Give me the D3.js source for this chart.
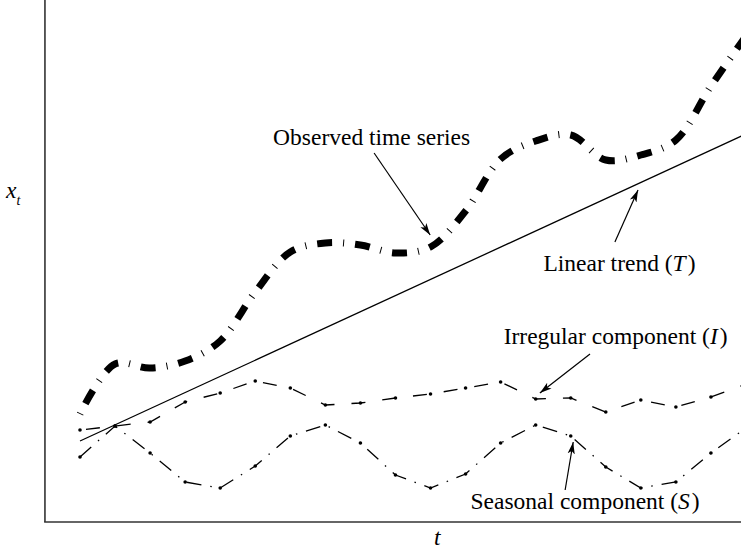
<!DOCTYPE html>
<html>
<head>
<meta charset="utf-8">
<script src="https://cdn.jsdelivr.net/npm/d3@7/dist/d3.min.js"></script>
<style>
  html, body { margin: 0; padding: 0; background: #fff; }
  svg { display: block; }
  text { font-family: "Liberation Serif", "DejaVu Serif", serif; fill: #000; }
</style>
</head>
<body>
<svg id="chart" width="741" height="553"></svg>
<script>
// Time index (equally spaced periods)
const periods = d3.range(0, 20);

// Observed time series x_t
const observed = [21.6, 31.6, 30.8, 32.2, 36.2, 46.0, 54.0, 55.8, 55.4, 53.8,
                  55.0, 62.2, 72.6, 76.2, 77.4, 72.4, 73.4, 76.4, 87.2, 97.2];

// Seasonal component (S)
const seasonal = [13.0, 19.2, 13.8, 8.0, 6.8, 11.2, 17.2, 19.4, 15.8, 9.4,
                  6.8, 9.6, 15.8, 19.4, 17.2, 11.0, 6.8, 8.0, 13.8, 18.8];

// Irregular component (I)
const irregular = [18.4, 19.2, 20.0, 24.0, 25.8, 28.2, 26.8, 23.4, 23.8, 24.8,
                   25.6, 26.8, 28.0, 24.6, 24.8, 22.0, 24.4, 23.0, 25.0, 27.6];

// Linear trend (T): end points of the fitted line
const trendT = [0, 19];
const trendV = [16.2, 77.6];

// Annotation labels and their arrows, in data units
const labelText = ["Observed time series", "Linear trend ", "Irregular component ", "Seasonal component "];
const labelSymbol = [null, "T", "I", "S"];
const labelT = [8.32, 15.39, 15.28, 14.41];
const labelV = [75.4, 50.2, 35.6, 2.6];
const arrowFrom = [[8.39, 73.8], [15.26, 56.0], [14.55, 33.6], [13.84, 6.4]];
const arrowTo   = [[9.99, 57.4], [15.92, 66.4], [13.12, 25.8], [14.07, 16.0]];

const svg = d3.select("#chart");
const W = 741, H = 553;

const x = d3.scaleLinear().domain([0, 19]).range([80, 746]);
const y = d3.scaleLinear().domain([0, 100]).range([522, 22]);

// Arrowhead
svg.append("defs").append("marker")
  .attr("id", "head")
  .attr("markerUnits", "userSpaceOnUse")
  .attr("viewBox", "-12 -5 13 10")
  .attr("refX", 0).attr("refY", 0)
  .attr("markerWidth", 13).attr("markerHeight", 10)
  .attr("orient", "auto")
  .append("path")
  .attr("d", "M0,0 L-12,-3.6 L-9,0 L-12,3.6 Z")
  .attr("fill", "#000");

// Axes: plain lines, no ticks
const x0 = x(-1);
svg.append("line")
  .attr("x1", x0).attr("x2", x0)
  .attr("y1", 0).attr("y2", y(0))
  .attr("stroke", "#333").attr("stroke-width", 1.6);
svg.append("line")
  .attr("x1", x0 - 0.8).attr("x2", W)
  .attr("y1", y(0)).attr("y2", y(0))
  .attr("stroke", "#333").attr("stroke-width", 1.6);

// Axis titles
const xt = svg.append("text")
  .attr("x", 6).attr("y", y(64.8))
  .attr("font-size", 23.5).attr("font-style", "italic");
xt.append("tspan").text("x");
xt.append("tspan").attr("font-size", 14).attr("dy", 7).text("t");

svg.append("text")
  .attr("x", x(10.19)).attr("y", 545)
  .attr("text-anchor", "middle")
  .attr("font-size", 23.5).attr("font-style", "italic")
  .text("t");

// Linear trend
svg.append("line")
  .attr("x1", x(trendT[0])).attr("y1", y(trendV[0]))
  .attr("x2", x(trendT[1])).attr("y2", y(trendV[1]))
  .attr("stroke", "#000").attr("stroke-width", 1.3);

// Seasonal component: dash-dot with dots at each period
const poly = d3.line().x((d, i) => x(periods[i])).y(d => y(d));
svg.append("path")
  .attr("d", poly(seasonal))
  .attr("fill", "none").attr("stroke", "#000").attr("stroke-width", 1.3)
  .attr("stroke-dasharray", "15,9,1.5,9");
svg.append("g").selectAll("circle").data(seasonal).join("circle")
  .attr("cx", (d, i) => x(periods[i])).attr("cy", d => y(d))
  .attr("r", 1.8).attr("fill", "#000");

// Irregular component: dashed with dots at each period
svg.append("path")
  .attr("d", poly(irregular))
  .attr("fill", "none").attr("stroke", "#000").attr("stroke-width", 1.3)
  .attr("stroke-dasharray", "14,17")
  .attr("stroke-dashoffset", -6);
svg.append("g").selectAll("circle").data(irregular).join("circle")
  .attr("cx", (d, i) => x(periods[i])).attr("cy", d => y(d))
  .attr("r", 1.8).attr("fill", "#000");

// Observed series: heavy dash-dot curve
const smooth = d3.line()
  .x((d, i) => x(periods[i])).y(d => y(d))
  .curve(d3.curveCatmullRom.alpha(0.5));
svg.append("path")
  .attr("d", smooth(observed))
  .attr("fill", "none").attr("stroke", "#000").attr("stroke-width", 7)
  .attr("stroke-linecap", "butt")
  .attr("stroke-dasharray", "1,11,15,11");

// Annotation arrows
arrowFrom.forEach((p, i) => {
  svg.append("line")
    .attr("x1", x(p[0])).attr("y1", y(p[1]))
    .attr("x2", x(arrowTo[i][0])).attr("y2", y(arrowTo[i][1]))
    .attr("stroke", "#000").attr("stroke-width", 1.2)
    .attr("marker-end", "url(#head)");
});

// Annotation labels
labelText.forEach((s, i) => {
  const t = svg.append("text")
    .attr("x", x(labelT[i])).attr("y", y(labelV[i]))
    .attr("text-anchor", "middle")
    .attr("font-size", 23.5);
  t.append("tspan").text(s);
  if (labelSymbol[i]) {
    t.append("tspan").text("(");
    t.append("tspan").attr("font-style", "italic").text(labelSymbol[i]);
    t.append("tspan").attr("dx", 2).text(")");
  }
});
</script>
</body>
</html>
